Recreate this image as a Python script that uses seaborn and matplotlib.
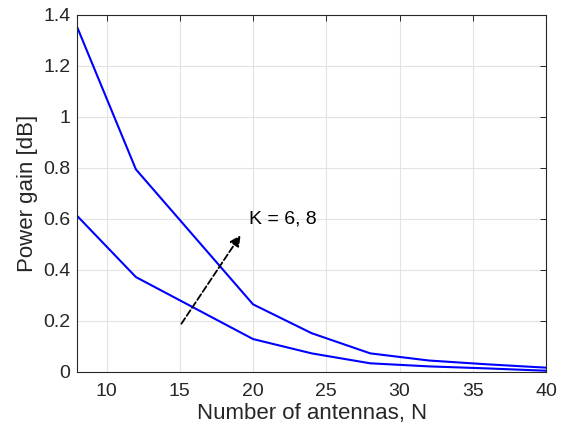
import numpy as np
import pandas as pd
import matplotlib
matplotlib.use("Agg")
import matplotlib.pyplot as plt
import seaborn as sns

antennas = [8, 12, 20, 24, 28, 32, 36, 40]
gain_k8 = [1.350, 0.794, 0.265, 0.152, 0.073, 0.045, 0.030, 0.017]
gain_k6 = [0.611, 0.372, 0.129, 0.073, 0.034, 0.022, 0.014, 0.005]

df = pd.concat([
    pd.DataFrame({"N": antennas, "gain": gain_k8, "K": "8"}),
    pd.DataFrame({"N": antennas, "gain": gain_k6, "K": "6"}),
])

sns.set_theme(style="whitegrid")
plt.rcParams['font.family'] = ['Liberation Sans', 'DejaVu Sans']

fig = plt.figure(figsize=(5.71, 4.38), dpi=100)
ax = fig.add_axes([0.1354, 0.1507, 0.8208, 0.8157])

sns.lineplot(data=df, x="N", y="gain", hue="K", palette=["#0000FF", "#0000FF"],
             legend=False, linewidth=1.5, ax=ax, estimator=None, sort=False)

ax.set_xlim(8, 40)
ax.set_ylim(0, 1.4)
ax.set_xticks([10, 15, 20, 25, 30, 35, 40])
ax.set_yticks([0, 0.2, 0.4, 0.6, 0.8, 1.0, 1.2, 1.4])
ax.set_yticklabels(["0", "0.2", "0.4", "0.6", "0.8", "1", "1.2", "1.4"])
ax.set_xlabel("Number of antennas, N", fontsize=16, color="#262626", labelpad=2)
ax.set_ylabel("Power gain [dB]", fontsize=16, color="#262626", labelpad=4)
ax.tick_params(axis="both", labelsize=14, colors="#262626", direction="in",
               length=4, width=0.7, top=True, right=True)
ax.tick_params(axis="x", pad=8)
ax.tick_params(axis="y", pad=5)
for s in ax.spines.values():
    s.set_visible(True)
    s.set_color("#262626")
    s.set_linewidth(0.8)
ax.grid(True, color="#e3e3e3", linewidth=0.8)
ax.set_facecolor("white")

ax.annotate("", xy=(19.25, 0.545), xytext=(15.0, 0.18),
            arrowprops=dict(arrowstyle="-|>", color="black", lw=1.3,
                            linestyle="--", mutation_scale=16))
ax.text(19.7, 0.58, "K = 6, 8", fontsize=14, color="black", ha="left", va="baseline")

fig.savefig("out.png", dpi=100)
